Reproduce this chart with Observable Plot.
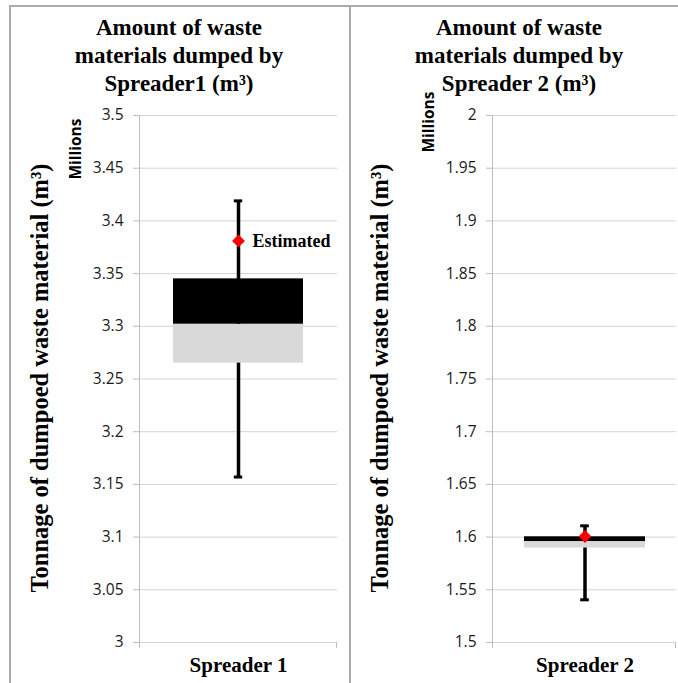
<!DOCTYPE html>
<html>
<head>
<meta charset="utf-8">
<script src="https://cdn.jsdelivr.net/npm/d3@7"></script>
<script src="https://cdn.jsdelivr.net/npm/@observablehq/plot@0.6"></script>
<style>
  html, body { margin: 0; padding: 0; background: #fff; }
  #chart { position: relative; width: 678px; height: 683px; overflow: hidden; background: #fff; }
  .panel { position: absolute; top: 0; }
  .title { position: absolute; top: 14px; width: 340px; text-align: center;
           font: bold 23px/28px "Liberation Serif", serif; color: #000; }
  .vlabel { position: absolute; white-space: nowrap; transform: translate(-50%, -50%) rotate(-90deg); }
  .ytitle { font: bold 24.5px "Liberation Serif", serif; color: #000; }
  .units { font: bold 15.5px "Open Sans", sans-serif; color: #000; }
  .rule { position: absolute; background: #ababab; }
</style>
</head>
<body>
<div id="chart"></div>
<script>
// Box summaries for the two spreaders (millions of m³)
const categories = ["Spreader 1", "Spreader 2"];
const whiskerLow = [3.157, 1.5405];
const boxLow = [3.265, 1.5896];
const boxMid = [3.302, 1.5958];
const boxHigh = [3.345, 1.6003];
const whiskerHigh = [3.419, 1.6107];
const estimated = [3.381, 1.6006];
const estimatedLabels = ["Estimated", ""];

// Axis ticks for each panel
const yTicks1 = [3, 3.05, 3.1, 3.15, 3.2, 3.25, 3.3, 3.35, 3.4, 3.45, 3.5];
const yTicks2 = [1.5, 1.55, 1.6, 1.65, 1.7, 1.75, 1.8, 1.85, 1.9, 1.95, 2];
const yTicks = [yTicks1, yTicks2];

// Text
const titleLines = [
  ["Amount of waste", "materials dumped by", "Spreader1 (m³)"],
  ["Amount of waste", "materials dumped by", "Spreader 2 (m³)"]
];
const yTitle = "Tonnage of dumpoed waste material (m³)";
const unitsLabel = "Millions";

const SERIF = "Liberation Serif, serif";
const SANS = "Open Sans, sans-serif";

// Vertical axis line plus the small category-axis ticks at the frame edges
function axisLines(index, scales, values, dims) {
  const {width, height, marginLeft, marginRight, marginTop, marginBottom} = dims;
  const g = d3.create("svg:g").attr("stroke", "#bdbdbd").attr("stroke-width", 1);
  const x0 = marginLeft + 0.5, x1 = width - marginRight - 0.5, yb = height - marginBottom;
  g.append("line").attr("x1", x0).attr("x2", x0).attr("y1", marginTop).attr("y2", yb + 6);
  g.append("line").attr("x1", x1).attr("x2", x1).attr("y1", yb).attr("y2", yb + 6);
  return g.node();
}

function panel(i, layout) {
  const row = [{
    cat: categories[i], lo: whiskerLow[i], q1: boxLow[i], med: boxMid[i],
    q3: boxHigh[i], hi: whiskerHigh[i], est: estimated[i], label: estimatedLabels[i]
  }];
  const pad = 0.205;
  const inner = layout.width - layout.marginLeft - layout.marginRight;
  const band = inner * (1 - pad) / (1 + pad);
  const capInset = (band - 9) / 2;
  const ticks = yTicks[i];
  return Plot.plot({
    width: layout.width,
    height: 683,
    marginTop: 115,
    marginBottom: 41,
    marginLeft: layout.marginLeft,
    marginRight: layout.marginRight,
    style: {background: "transparent", overflow: "visible"},
    x: {type: "band", domain: [categories[i]], padding: pad, axis: null},
    y: {domain: [ticks[0], ticks[ticks.length - 1]], axis: null},
    marks: [
      Plot.gridY(ticks, {stroke: "#d4d4d4", strokeOpacity: 1}),
      axisLines,
      Plot.axisY(ticks, {
        tickSize: 6, tickPadding: 10, stroke: "#bdbdbd", fill: "#1a1a1a",
        fontFamily: SANS, fontSize: 15.5, tickFormat: d => String(d), label: null
      }),
      Plot.axisX({
        tickSize: 0, tickPadding: 15, fill: "#000",
        fontFamily: SERIF, fontSize: 21, fontWeight: "bold", label: null
      }),
      Plot.ruleX(row, {x: "cat", y1: "lo", y2: "hi", stroke: "#000", strokeWidth: 3.5}),
      Plot.barY(row, {x: "cat", y1: "q1", y2: "med", fill: "#d9d9d9"}),
      Plot.barY(row, {x: "cat", y1: "med", y2: "q3", fill: "#000"}),
      Plot.tickY(row, {x: "cat", y: "lo", insetLeft: capInset, insetRight: capInset, stroke: "#000", strokeWidth: 3}),
      Plot.tickY(row, {x: "cat", y: "hi", insetLeft: capInset, insetRight: capInset, stroke: "#000", strokeWidth: 3}),
      Plot.dot(row, {x: "cat", y: "est", symbol: "diamond2", r: 5.8, fill: "#ff0000", stroke: "none"}),
      Plot.text(row, {
        x: "cat", y: "est", text: "label", dx: 14, textAnchor: "start",
        fontFamily: SERIF, fontSize: 18, fontWeight: "bold", fill: "#000"
      })
    ]
  });
}

const chart = document.getElementById("chart");

const layouts = [
  {left: 0, width: 350, marginLeft: 139, marginRight: 13, titleX: 179, yTitleX: 40, unitsX: 75, unitsY: 149},
  {left: 350, width: 328, marginLeft: 142, marginRight: 2, titleX: 519, yTitleX: 380, unitsX: 428, unitsY: 122}
];

layouts.forEach((layout, i) => {
  const holder = document.createElement("div");
  holder.className = "panel";
  holder.style.left = layout.left + "px";
  holder.style.width = layout.width + "px";
  holder.appendChild(panel(i, layout));
  chart.appendChild(holder);

  const title = document.createElement("div");
  title.className = "title";
  title.style.left = (layout.titleX - 170) + "px";
  title.innerHTML = titleLines[i].join("<br>");
  chart.appendChild(title);

  const yt = document.createElement("div");
  yt.className = "vlabel ytitle";
  yt.style.left = layout.yTitleX + "px";
  yt.style.top = "378px";
  yt.textContent = yTitle;
  chart.appendChild(yt);

  const un = document.createElement("div");
  un.className = "vlabel units";
  un.style.left = layout.unitsX + "px";
  un.style.top = layout.unitsY + "px";
  un.textContent = unitsLabel;
  chart.appendChild(un);
});

// Panel borders
[
  {left: 10, top: 5, width: 668, height: 2},
  {left: 9, top: 5, width: 2, height: 678},
  {left: 349, top: 5, width: 2, height: 678}
].forEach(b => {
  const d = document.createElement("div");
  d.className = "rule";
  Object.assign(d.style, {left: b.left + "px", top: b.top + "px", width: b.width + "px", height: b.height + "px"});
  chart.appendChild(d);
});
</script>
</body>
</html>
